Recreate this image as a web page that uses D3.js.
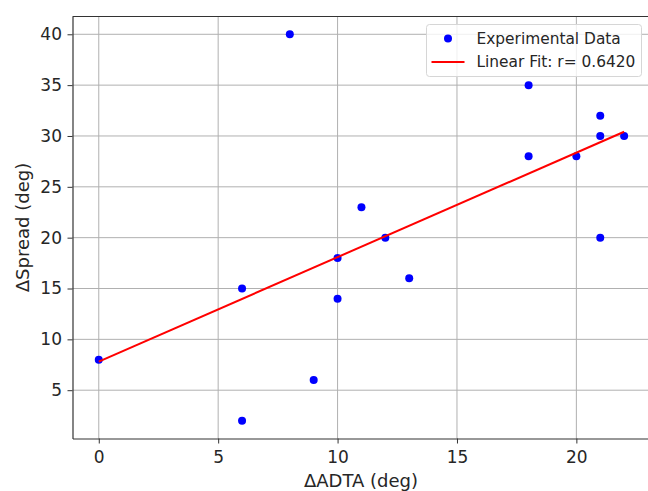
<!DOCTYPE html>
<html>
<head>
<meta charset="utf-8">
<script src="https://cdn.jsdelivr.net/npm/d3@7"></script>
<style>
  body { margin: 0; background: #fff; }
  text { font-family: "DejaVu Sans", sans-serif; fill: #262626; }
</style>
</head>
<body>
<script>
// data
var adta   = [0, 6, 6, 8, 9, 10, 10, 11, 12, 13, 18, 18, 20, 21, 21, 21, 22];
var spread = [8, 15, 2, 40, 6, 18, 14, 23, 20, 16, 35, 28, 28, 32, 30, 20, 30];
var xTicks = [0, 5, 10, 15, 20];
var yTicks = [5, 10, 15, 20, 25, 30, 35, 40];
var legendLabels = ["Experimental Data", "Linear Fit: r= 0.6420"];

var width = 648, height = 491;
var margin = {top: 16.5, right: -2.4, bottom: 52.5, left: 72.5};

var svg = d3.select("body").append("svg")
    .attr("width", width)
    .attr("height", height);

var x = d3.scaleLinear().domain([-1.1, 23.1]).range([margin.left, width - margin.right]);
var y = d3.scaleLinear().domain([0.25, 41.75]).range([height - margin.bottom, margin.top]);

// Grid lines
var grid = svg.append("g").attr("class", "grid");
grid.selectAll("line.gx").data(xTicks).enter().append("line")
    .attr("x1", d => x(d)).attr("x2", d => x(d))
    .attr("y1", y.range()[1]).attr("y2", y.range()[0])
    .attr("stroke", "#b0b0b0").attr("stroke-width", 1);
grid.selectAll("line.gy").data(yTicks).enter().append("line")
    .attr("y1", d => y(d)).attr("y2", d => y(d))
    .attr("x1", x.range()[0]).attr("x2", x.range()[1])
    .attr("stroke", "#b0b0b0").attr("stroke-width", 1);

// Axes
var xAxis = svg.append("g")
    .attr("transform", "translate(0," + y.range()[0] + ")")
    .call(d3.axisBottom(x).tickValues(xTicks).tickSize(5).tickPadding(7).tickSizeOuter(0));
var yAxis = svg.append("g")
    .attr("transform", "translate(" + x.range()[0] + ",0)")
    .call(d3.axisLeft(y).tickValues(yTicks).tickSize(5).tickPadding(5.5).tickSizeOuter(0));

[xAxis, yAxis].forEach(function(a) {
    a.selectAll("text").style("font-size", "17px").attr("fill", "#262626");
    a.selectAll("line").attr("stroke", "#333");
    a.select(".domain").attr("stroke", "#333").attr("stroke-width", 1.2);
});

// top spine
svg.append("line")
    .attr("x1", x.range()[0]).attr("x2", x.range()[1])
    .attr("y1", y.range()[1]).attr("y2", y.range()[1])
    .attr("stroke", "#333").attr("stroke-width", 1.2);

// Axis labels
svg.append("text")
    .attr("x", 361)
    .attr("y", 486.5)
    .attr("text-anchor", "middle")
    .style("font-size", "18px")
    .text("\u0394ADTA (deg)");
svg.append("text")
    .attr("transform", "translate(28.5," + (y.range()[0] + y.range()[1]) / 2 + ") rotate(-90)")
    .attr("text-anchor", "middle")
    .style("font-size", "18px")
    .text("\u0394Spread (deg)");

// Least squares fit
var mx = d3.mean(adta), my = d3.mean(spread);
var sxy = d3.sum(adta, (d, i) => (d - mx) * (spread[i] - my));
var sxx = d3.sum(adta, d => (d - mx) * (d - mx));
var slope = sxy / sxx, intercept = my - slope * mx;
var xExt = d3.extent(adta);

var points = adta.map((d, i) => ({x: d, y: spread[i]}));

svg.selectAll("circle.pt").data(points).enter().append("circle")
    .attr("class", "pt")
    .attr("cx", d => x(d.x))
    .attr("cy", d => y(d.y))
    .attr("r", 4)
    .attr("fill", "#0000ff");

svg.append("path")
    .datum(xExt.map(d => ({x: d, y: intercept + slope * d})))
    .attr("fill", "none")
    .attr("stroke", "#ff0000")
    .attr("stroke-width", 2)
    .attr("d", d3.line().x(d => x(d.x)).y(d => y(d.y)));

// Legend
var lg = svg.append("g").attr("transform", "translate(426.5,24.5)");
lg.append("rect")
    .attr("width", 215).attr("height", 52).attr("rx", 3)
    .attr("fill", "#fff").attr("fill-opacity", 0.8)
    .attr("stroke", "#d6d6d6");
lg.append("circle").attr("cx", 21.5).attr("cy", 14).attr("r", 4).attr("fill", "#0000ff");
lg.append("line").attr("x1", 5).attr("x2", 38).attr("y1", 37.5).attr("y2", 37.5)
    .attr("stroke", "#ff0000").attr("stroke-width", 2);
lg.selectAll("text.lab").data(legendLabels).enter().append("text")
    .attr("x", 50)
    .attr("y", (d, i) => 14 + i * 23.5)
    .attr("dy", "0.35em")
    .style("font-size", "15.4px")
    .text(d => d);
</script>
</body>
</html>
